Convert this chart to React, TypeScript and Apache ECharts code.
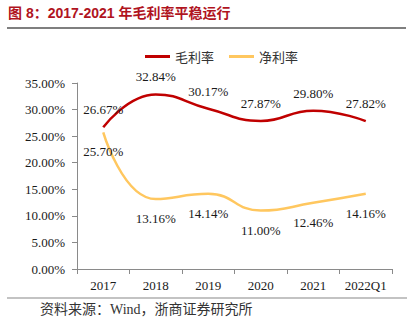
import React, { useEffect, useRef } from "react";
import * as echarts from "echarts";

const categories = ["2017", "2018", "2019", "2020", "2021", "2022Q1"];
const grossMargin = [26.67, 32.84, 30.17, 27.87, 29.8, 27.82];
const netMargin = [25.7, 13.16, 14.14, 11.0, 12.46, 14.16];
const seriesNames = ["毛利率", "净利率"];
const titleText = "图 8：2017-2021 年毛利率平稳运行";
const sourceText = "资料来源：Wind，浙商证券研究所";

export default function App() {
  const ref = useRef<HTMLDivElement>(null);
  useEffect(() => {
    if (!ref.current) return;
    const chart = echarts.init(ref.current, null, { renderer: "svg" });
    const labelFont = {
      fontFamily: "Liberation Serif",
      fontSize: 13,
      color: "#1a1a1a",
    };
    chart.setOption({
      animation: false,
      backgroundColor: "#ffffff",
      grid: { left: 77, right: 20, top: 83, bottom: 62 },
      legend: {
        left: 140,
        top: 45,
        icon: "rect",
        itemWidth: 25,
        itemHeight: 3,
        itemGap: 15,
        data: seriesNames,
        textStyle: {
          fontFamily: "Noto Sans CJK SC",
          fontSize: 13,
          color: "#333",
        },
      },
      xAxis: {
        type: "category",
        data: categories,
        boundaryGap: true,
        axisLine: { lineStyle: { color: "#8a8a8a", width: 1 } },
        axisTick: { show: true, length: 5, lineStyle: { color: "#8a8a8a" } },
        axisLabel: { ...labelFont, margin: 10, interval: 0 },
        splitLine: { show: false },
      },
      yAxis: {
        type: "value",
        min: 0,
        max: 35,
        interval: 5,
        axisLine: { show: true, lineStyle: { color: "#8a8a8a", width: 1 } },
        axisTick: { show: true, length: 5, lineStyle: { color: "#8a8a8a" } },
        axisLabel: {
          ...labelFont,
          margin: 12,
          formatter: (v: number) => v.toFixed(2) + "%",
        },
        splitLine: { show: false },
      },
      series: [
        {
          name: seriesNames[0],
          type: "line",
          data: grossMargin,
          smooth: 0.5,
          symbol: "circle",
          symbolSize: 0.1,
          itemStyle: { color: "#C00000" },
          lineStyle: { color: "#C00000", width: 2.5 },
          label: {
            show: true,
            position: "top",
            distance: 11,
            ...labelFont,
            formatter: (p: any) => p.value.toFixed(2) + "%",
          },
        },
        {
          name: seriesNames[1],
          type: "line",
          data: netMargin,
          smooth: 0.5,
          symbol: "circle",
          symbolSize: 0.1,
          itemStyle: { color: "#FFC75F" },
          lineStyle: { color: "#FFC75F", width: 2.5 },
          label: {
            show: true,
            position: "bottom",
            distance: 13,
            ...labelFont,
            formatter: (p: any) => p.value.toFixed(2) + "%",
          },
        },
      ],
      graphic: [
        {
          type: "text",
          left: 8,
          top: 6,
          style: {
            text: titleText,
            fontFamily: "Liberation Sans, Noto Sans CJK SC, sans-serif",
            fontWeight: "bold",
            fontSize: 14,
            fill: "#B0141E",
          },
        },
        {
          type: "line",
          shape: { x1: 7, y1: 28, x2: 406, y2: 28 },
          style: { stroke: "#555", lineWidth: 1.5 },
        },
        {
          type: "line",
          shape: { x1: 7, y1: 298, x2: 407, y2: 298 },
          style: { stroke: "#888", lineWidth: 1.2 },
        },
        {
          type: "text",
          left: 40,
          top: 302,
          style: {
            text: sourceText,
            fontFamily: "Liberation Serif, Noto Sans CJK SC, serif",
            fontSize: 14,
            fill: "#333",
          },
        },
      ],
    });
    return () => chart.dispose();
  }, []);
  return (
    <div
      ref={ref}
      style={{ position: "fixed", left: 0, top: 0, width: 412, height: 331 }}
    />
  );
}
